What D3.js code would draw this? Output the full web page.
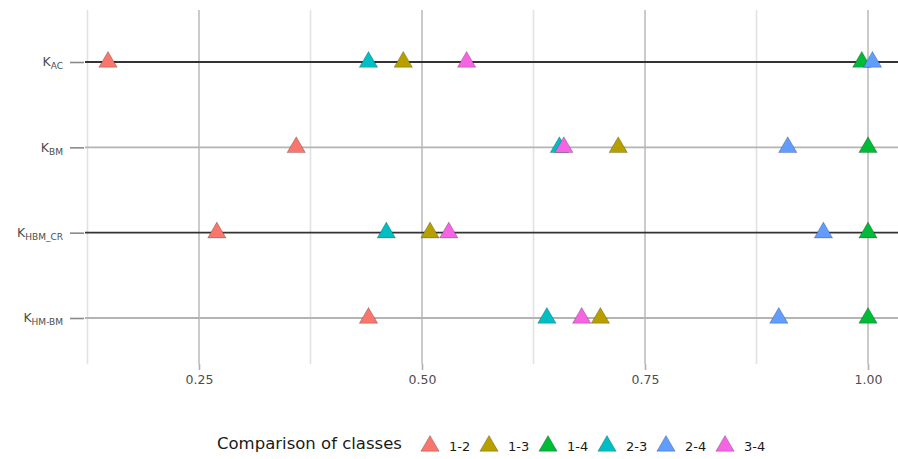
<!DOCTYPE html>
<html>
<head>
<meta charset="utf-8">
<script src="https://cdn.jsdelivr.net/npm/d3@7/dist/d3.min.js"></script>
<style>
  html, body { margin: 0; padding: 0; background: #fff; }
  svg { display: block; font-family: "DejaVu Sans", sans-serif; }
</style>
</head>
<body>
<svg id="chart" width="898" height="459"></svg>
<script>
// Agreement indices (rows) and class-pair comparisons (series)
const indices = ["AC", "BM", "HBM_CR", "HM-BM"];
const comparisons = ["1-2", "1-3", "1-4", "2-3", "2-4", "3-4"];
const colors = ["#F8766D", "#B79F00", "#00BA38", "#00BFC4", "#619CFF", "#F564E3"];

// one array per comparison, values in the order of `indices`
const v12 = [0.148, 0.359, 0.270, 0.440];
const v13 = [0.479, 0.720, 0.509, 0.700];
const v14 = [0.993, 1.000, 1.000, 1.000];
const v23 = [0.440, 0.654, 0.460, 0.640];
const v24 = [1.005, 0.910, 0.950, 0.900];
const v34 = [0.550, 0.659, 0.530, 0.679];
const seriesValues = [v12, v13, v14, v23, v24, v34];

const xMajor = [0.25, 0.50, 0.75, 1.00];
const xMinor = [0.125, 0.375, 0.625, 0.875];
const xTickLabels = ["0.25", "0.50", "0.75", "1.00"];
const legendTitle = "Comparison of classes";

const svg = d3.select("#chart");
const panel = { left: 85, right: 898, top: 10, bottom: 364 };

const x = d3.scaleLinear().domain([0.25, 1.0]).range([199, 868]);
const y = d3.scalePoint().domain(indices).range([62, 318]);
const color = d3.scaleOrdinal().domain(comparisons).range(colors);

// vertical grid
svg.append("g").selectAll("line").data(xMinor).join("line")
  .attr("x1", d => x(d)).attr("x2", d => x(d))
  .attr("y1", panel.top).attr("y2", panel.bottom)
  .attr("stroke", "#e2e2e2").attr("stroke-width", 1.6);
svg.append("g").selectAll("line").data(xMajor).join("line")
  .attr("x1", d => x(d)).attr("x2", d => x(d))
  .attr("y1", panel.top).attr("y2", panel.bottom)
  .attr("stroke", "#c6c6c6").attr("stroke-width", 1.8);

// horizontal row lines (first and third rows emphasised)
svg.append("g").selectAll("line").data(indices).join("line")
  .attr("x1", panel.left).attr("x2", panel.right)
  .attr("y1", d => y(d)).attr("y2", d => y(d))
  .attr("stroke", (d, i) => i % 2 === 0 ? "#333333" : "#b4b4b4")
  .attr("stroke-width", 1.8);

// x axis
const xAxis = d3.axisBottom(x).tickValues(xMajor)
  .tickFormat((d, i) => xTickLabels[i]).tickSize(6).tickPadding(5);
const gx = svg.append("g").attr("transform", `translate(0,${panel.bottom})`).call(xAxis);
gx.select(".domain").remove();
gx.selectAll(".tick line").attr("stroke", "#b0b0b0").attr("stroke-width", 1.6);
gx.selectAll(".tick text").attr("fill", "#4d4d4d").attr("font-size", 12.5)
  .attr("font-family", "DejaVu Sans, sans-serif");

// y axis with subscripted labels
const yAxis = d3.axisLeft(y).tickSize(14).tickPadding(6).tickFormat("");
const gy = svg.append("g").attr("transform", `translate(${panel.left - 1},0)`).call(yAxis);
gy.select(".domain").remove();
gy.selectAll(".tick line").attr("stroke", "#8a8a8a").attr("stroke-width", 1.6);
gy.selectAll(".tick").each(function (d) {
  const t = d3.select(this).append("text")
    .attr("x", -21).attr("dy", "0.3em")
    .attr("text-anchor", "end").attr("fill", "#4d4d4d")
    .attr("font-family", "DejaVu Sans, sans-serif").attr("font-size", 12.5);
  t.append("tspan").text("K");
  t.append("tspan").attr("font-size", 9).attr("dy", 3).text(d);
});

// points
const tri = d3.symbol().type(d3.symbolTriangle).size(145);
const points = [];
comparisons.forEach((c, si) => {
  seriesValues[si].forEach((v, ri) => points.push({ comp: c, index: indices[ri], value: v }));
});
svg.append("g").selectAll("path").data(points).join("path")
  .attr("d", tri)
  .attr("transform", d => `translate(${x(d.value)},${y(d.index)})`)
  .attr("fill", d => color(d.comp))
  .attr("stroke", "rgba(0,0,0,0.28)").attr("stroke-width", 0.8);

// legend
const legend = svg.append("g");
legend.append("text").attr("x", 217).attr("y", 449)
  .attr("font-size", 16.5).attr("fill", "#1a1a1a").text(legendTitle);
const legendX = d3.scalePoint().domain(comparisons).range([430, 725]);
const items = legend.selectAll("g.item").data(comparisons).join("g")
  .attr("class", "item")
  .attr("transform", d => `translate(${legendX(d)},446)`);
items.append("path").attr("d", tri).attr("fill", d => color(d))
  .attr("stroke", "rgba(0,0,0,0.28)").attr("stroke-width", 0.8);
items.append("text").attr("x", 19).attr("y", 4.5)
  .attr("font-size", 13).attr("fill", "#1a1a1a").text(d => d);
</script>
</body>
</html>
